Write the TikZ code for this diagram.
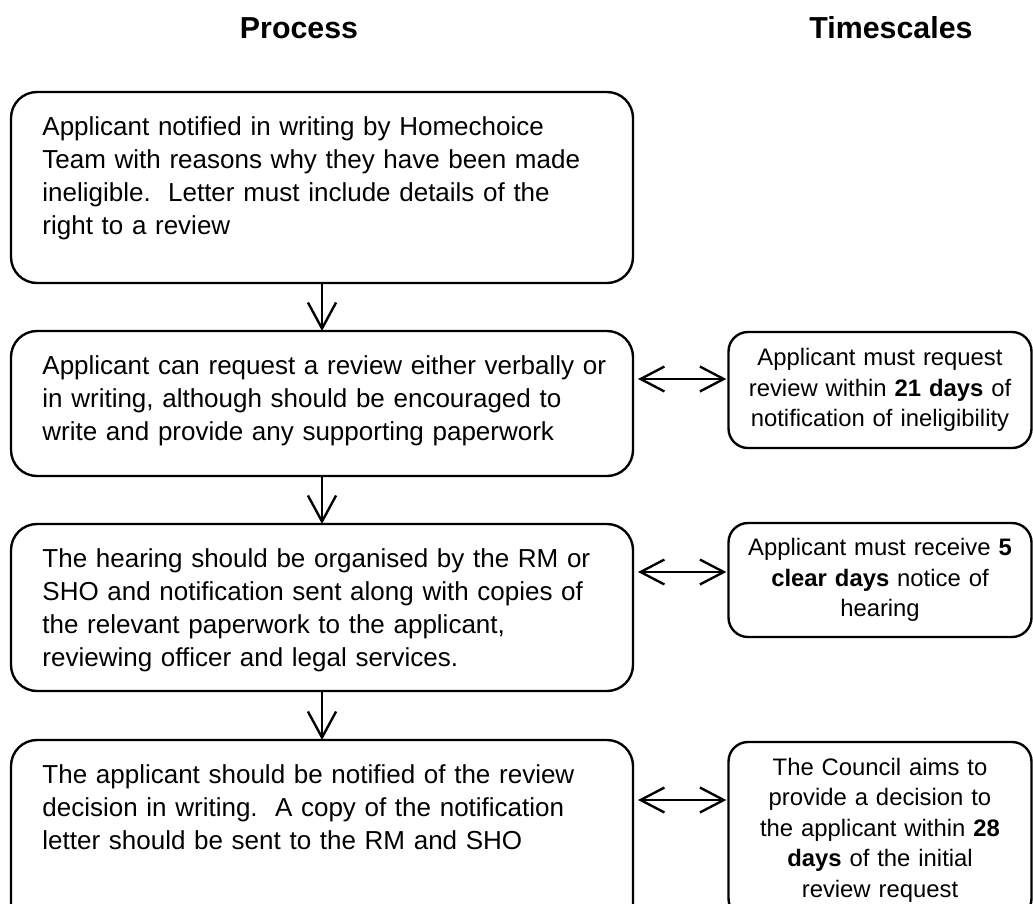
\documentclass[tikz,border=0pt]{standalone}
\usepackage{fontspec}
\setmainfont{Liberation Sans}
\usetikzlibrary{arrows.meta}

\def\pxl{0.4615pt}

\begin{document}
\begin{tikzpicture} [x=\pxl, y=-\pxl,
  box/.style={draw, line width=1.1pt, inner sep=0pt, outer sep=0pt},
  procbox/.style={box, rounded corners=12pt, anchor=north west, minimum width=622*\pxl},
  timebox/.style={box, rounded corners=9pt, minimum width=303*\pxl, text width=290*\pxl,
    align=center, font=\fontsize{11}{14.1}\selectfont},
  proctext/.style={anchor=north west, inner sep=0pt, text width=580*\pxl, align=left,
    font=\fontsize{12}{15.2}\selectfont},
  head/.style={font=\fontsize{14}{17}\selectfont\bfseries},
  flow/.style={line width=1.1pt, -{Straight Barb[length=12pt,width=13pt]}},
  link/.style={line width=1.1pt, {Straight Barb[length=11pt,width=11.5pt]}-{Straight Barb[length=11pt,width=11.5pt]},
    shorten <=2.3pt, shorten >=1pt}]
\useasboundingbox (0,0) rectangle (1033,903);

\node[head] (process) at (299,28) {Process};
\node[head] (timescales) at (891,28) {Timescales};

\node[procbox, minimum height=191*\pxl] (notify) at (11,92) {};
\node[procbox, minimum height=145*\pxl] (review) at (11,331) {};
\node[procbox, minimum height=167*\pxl] (hearing) at (11,524) {};
\node[procbox, minimum height=190*\pxl] (decision) at (11,740) {};

\node[proctext] (notify text) at ([shift={(31,24)}]notify.north west)
  {Applicant notified in writing by Homechoice\\
   Team with reasons why they have been made\\
   ineligible.\ \ Letter must include details of the\\
   right to a review};
\node[proctext] (review text) at ([shift={(31,24)}]review.north west)
  {Applicant can request a review either verbally or\\
   in writing, although should be encouraged to\\
   write and provide any supporting paperwork};
\node[proctext] (hearing text) at ([shift={(31,24)}]hearing.north west)
  {The hearing should be organised by the RM or\\
   SHO and notification sent along with copies of\\
   the relevant paperwork to the applicant,\\
   reviewing officer and legal services.};
\node[proctext] (decision text) at ([shift={(31,24)}]decision.north west)
  {The applicant should be notified of the review\\
   decision in writing.\ \ A copy of the notification\\
   letter should be sent to the RM and SHO};

\node[timebox, minimum height=116*\pxl] (t-review) at (880,390)
  {Applicant must request\\ review within \textbf{21 days} of\\ notification of ineligibility};
\node[timebox, minimum height=114*\pxl] (t-hearing) at (880,580)
  {Applicant must receive \textbf{5}\\ \textbf{clear days} notice of\\ hearing};
\node[timebox, minimum height=176*\pxl] (t-decision) at (880,830)
  {The Council aims to\\ provide a decision to\\ the applicant within \textbf{28}\\
   \textbf{days} of the initial\\ review request};

\foreach \a/\b in {notify/review, review/hearing, hearing/decision}
  \draw[flow] (\a) -- (\b);

\coordinate (lvl1) at (0,379);
\coordinate (lvl2) at (0,572);
\coordinate (lvl3) at (0,800);
\draw[link] (review.east |- lvl1) -- (t-review.west |- lvl1);
\draw[link] (hearing.east |- lvl2) -- (t-hearing.west |- lvl2);
\draw[link] (decision.east |- lvl3) -- (t-decision.west |- lvl3);
\end{tikzpicture}
\end{document}
